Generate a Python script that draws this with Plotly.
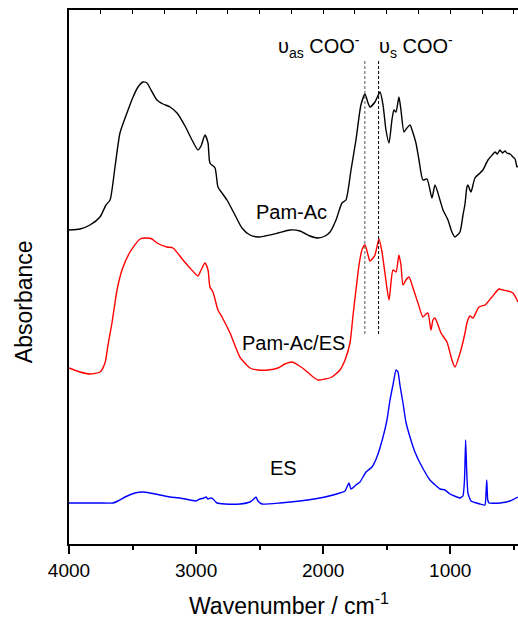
import plotly.graph_objects as go

# ---------------- data ----------------
pam_ac_wn = [4000, 3913, 3835, 3756, 3709, 3677, 3638, 3599, 3544, 3496, 3457, 3418, 3386, 3363,
             3308, 3260, 3205, 3150, 3087, 3032, 2985, 2961, 2930, 2906, 2891, 2851, 2828, 2796,
             2757, 2694, 2639, 2576, 2513, 2458, 2356, 2261, 2183, 2104, 2041, 1986, 1946, 1899,
             1852, 1821, 1781, 1742, 1703, 1671, 1647, 1632, 1592, 1553, 1529, 1506, 1482, 1459,
             1443, 1427, 1404, 1388, 1364, 1341, 1317, 1293, 1270, 1246, 1215, 1183, 1144, 1120,
             1081, 1057, 1018, 987, 963, 924, 900, 884, 869, 861, 837, 806, 766, 743, 703, 670,
             648, 630, 609, 590, 570, 554, 530, 507, 490, 475, 467]
pam_ac_abs = [3.14, 3.15, 3.19, 3.27, 3.39, 3.44, 3.77, 4.11, 4.31, 4.47, 4.57, 4.62, 4.61, 4.56,
              4.44, 4.40, 4.37, 4.31, 4.18, 4.04, 3.94, 3.98, 4.09, 4.01, 3.81, 3.76, 3.57, 3.51,
              3.44, 3.29, 3.16, 3.09, 3.07, 3.08, 3.11, 3.14, 3.13, 3.08, 3.06, 3.08, 3.12, 3.24,
              3.41, 3.44, 3.74, 4.04, 4.39, 4.50, 4.41, 4.37, 4.42, 4.52, 4.39, 4.14, 4.01, 4.24,
              4.34, 4.32, 4.47, 4.34, 4.12, 4.16, 4.19, 4.11, 4.01, 3.84, 3.64, 3.65, 3.46, 3.59,
              3.44, 3.34, 3.24, 3.12, 3.07, 3.12, 3.29, 3.40, 3.57, 3.59, 3.52, 3.66, 3.71, 3.74,
              3.84, 3.89, 3.92, 3.90, 3.94, 3.91, 3.93, 3.91, 3.90, 3.87, 3.85, 3.77, 3.78]

pam_es_wn = [4000, 3913, 3835, 3756, 3717, 3693, 3662, 3622, 3583, 3520, 3441, 3386, 3347, 3308,
             3229, 3182, 3103, 3048, 2985, 2961, 2930, 2906, 2891, 2867, 2828, 2796, 2733, 2655,
             2576, 2513, 2434, 2356, 2301, 2245, 2198, 2143, 2088, 2041, 1986, 1931, 1868, 1828,
             1789, 1765, 1742, 1718, 1695, 1671, 1647, 1632, 1608, 1592, 1561, 1537, 1514, 1482,
             1451, 1427, 1404, 1388, 1372, 1349, 1325, 1293, 1254, 1215, 1191, 1175, 1152, 1136,
             1120, 1073, 1026, 987, 963, 916, 884, 869, 845, 821, 774, 727, 672, 617, 585, 546,
             507, 467]
pam_es_abs = [1.76, 1.72, 1.70, 1.72, 1.81, 1.99, 2.21, 2.54, 2.74, 2.92, 3.05, 3.06, 3.05, 3.01,
              2.97, 2.96, 2.84, 2.76, 2.68, 2.74, 2.81, 2.74, 2.57, 2.52, 2.34, 2.27, 2.11, 1.87,
              1.76, 1.74, 1.74, 1.76, 1.80, 1.82, 1.79, 1.74, 1.68, 1.64, 1.65, 1.67, 1.74, 1.84,
              2.01, 2.29, 2.54, 2.79, 2.94, 2.99, 2.89, 2.83, 2.86, 2.89, 3.05, 2.92, 2.71, 2.44,
              2.74, 2.72, 2.89, 2.79, 2.59, 2.64, 2.67, 2.56, 2.41, 2.27, 2.30, 2.31, 2.14, 2.24,
              2.26, 2.11, 2.02, 1.84, 1.77, 1.94, 2.11, 2.21, 2.28, 2.26, 2.37, 2.39, 2.47, 2.55,
              2.54, 2.53, 2.51, 2.42]

es_wn = [4000, 3756, 3654, 3614, 3559, 3481, 3418, 3363, 3284, 3205, 3127, 3048, 3001, 2969,
         2938, 2922, 2906, 2883, 2867, 2836, 2773, 2655, 2576, 2545, 2529, 2513, 2481, 2340,
         2183, 1986, 1868, 1828, 1797, 1781, 1742, 1710, 1663, 1616, 1577, 1529, 1498, 1474,
         1451, 1427, 1411, 1396, 1372, 1349, 1317, 1278, 1238, 1160, 1081, 1042, 1002, 924,
         900, 888, 879, 871, 861, 837, 766, 727, 719, 713, 705, 695, 609, 530, 467]
es_abs = [0.41, 0.41, 0.41, 0.43, 0.47, 0.51, 0.52, 0.51, 0.49, 0.47, 0.46, 0.44, 0.43, 0.45,
          0.46, 0.47, 0.45, 0.46, 0.45, 0.41, 0.40, 0.40, 0.42, 0.45, 0.47, 0.43, 0.40, 0.41,
          0.43, 0.47, 0.51, 0.53, 0.61, 0.55, 0.59, 0.62, 0.72, 0.77, 0.87, 1.07, 1.24, 1.44,
          1.59, 1.74, 1.72, 1.59, 1.41, 1.22, 1.07, 0.92, 0.81, 0.64, 0.55, 0.54, 0.50, 0.46,
          0.48, 0.64, 1.04, 0.74, 0.51, 0.43, 0.40, 0.39, 0.50, 0.64, 0.44, 0.41, 0.41, 0.43, 0.47]

band_wn = [1672, 1564]            # dashed marker lines (COO- asym / sym)
band_colors = ["#555555", "#000000"]
band_span = [2.10, 4.84]          # absorbance extent of marker lines

x_range = [4000, 467]
y_range = [0, 5.34]

# ---------------- figure ----------------
fig = go.Figure()
fig.add_trace(go.Scatter(x=pam_ac_wn, y=pam_ac_abs, mode="lines",
                         line=dict(color="black", width=1.4, shape="spline", smoothing=0.6),
                         name="Pam-Ac"))
fig.add_trace(go.Scatter(x=pam_es_wn, y=pam_es_abs, mode="lines",
                         line=dict(color="#ff0000", width=1.4, shape="spline", smoothing=0.6),
                         name="Pam-Ac/ES"))
fig.add_trace(go.Scatter(x=es_wn, y=es_abs, mode="lines",
                         line=dict(color="#0000ff", width=1.4, shape="spline", smoothing=0.4),
                         name="ES"))
for w, c in zip(band_wn, band_colors):
    fig.add_trace(go.Scatter(x=[w, w], y=band_span, mode="lines",
                             line=dict(color=c, width=1, dash="3px,2px"),
                             showlegend=False, hoverinfo="skip"))
# invisible trace to anchor top axis
fig.add_trace(go.Scatter(x=x_range, y=[None, None], xaxis="x2", mode="lines",
                         showlegend=False, hoverinfo="skip"))

font_family = "Arial, Liberation Sans, sans-serif"
fig.update_layout(
    width=518, height=618,
    margin=dict(l=69, r=0, t=10, b=74),
    paper_bgcolor="white", plot_bgcolor="white",
    showlegend=False,
    font=dict(family=font_family, color="black"),
    xaxis=dict(range=x_range, tick0=0, dtick=1000, ticks="outside", ticklen=8,
               tickwidth=1.5, tickcolor="black", showline=True, linewidth=2,
               linecolor="black", showgrid=False, zeroline=False,
               tickfont=dict(size=19, family=font_family, color="black"),
               minor=dict(tick0=0, dtick=500, ticks="outside", ticklen=4,
                          tickwidth=1.5, tickcolor="black", showgrid=False)),
    xaxis2=dict(range=x_range, overlaying="x", side="top", anchor="y",
                tick0=0, dtick=250, ticks="inside", ticklen=4, tickwidth=1.2,
                tickcolor="black", showline=True, linewidth=2, linecolor="black",
                showticklabels=False, showgrid=False, zeroline=False),
    yaxis=dict(range=y_range, showline=True, linewidth=2, linecolor="black",
               ticks="", showticklabels=False, showgrid=False, zeroline=False),
)

annotations = [
    dict(text="Pam-Ac", x=2249, y=3.32, xref="x", yref="y", showarrow=False,
         font=dict(size=20)),
    dict(text="Pam-Ac/ES", x=2234, y=2.01, xref="x", yref="y", showarrow=False,
         font=dict(size=20)),
    dict(text="ES", x=2316, y=0.76, xref="x", yref="y", showarrow=False,
         font=dict(size=20)),
    dict(text="\u03c5<sub>as</sub> COO<sup>-</sup>", x=2371, y=4.98, xref="x", yref="y",
         xanchor="left", showarrow=False, font=dict(size=20)),
    dict(text="\u03c5<sub>s</sub> COO<sup>-</sup>", x=1577, y=4.98, xref="x", yref="y",
         xanchor="left", showarrow=False, font=dict(size=20)),
    dict(text="Wavenumber / cm<sup>-1</sup>", x=0.49, y=-0.112, xref="paper", yref="paper",
         xanchor="center", yanchor="middle", showarrow=False, font=dict(size=23)),
    dict(text="Absorbance", x=-0.100, y=0.453, xref="paper", yref="paper", textangle=-90,
         xanchor="center", yanchor="middle", showarrow=False, font=dict(size=23)),
]
fig.update_layout(annotations=annotations)

fig.write_html("out.html")
